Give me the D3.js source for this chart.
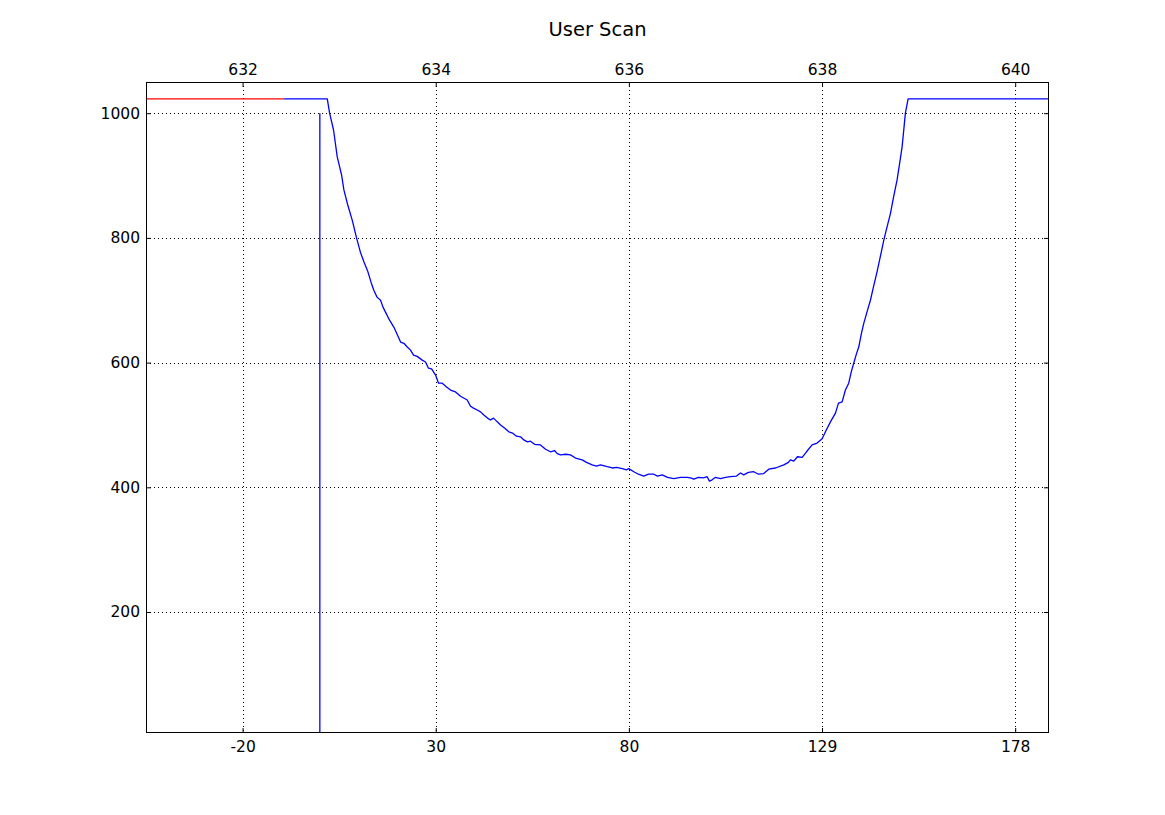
<!DOCTYPE html>
<html>
<head>
<meta charset="utf-8">
<script src="https://cdn.jsdelivr.net/npm/d3@7"></script>
<style>
  html, body { margin: 0; padding: 0; background: #fff; }
  svg { display: block; }
  text { font-family: "DejaVu Sans", sans-serif; fill: #000; }
</style>
</head>
<body>
<svg id="chart" width="1165" height="815"></svg>
<script>
// ---- data ----
const titleText = "User Scan";
const topTicks = [632, 634, 636, 638, 640];
const bottomTickLabels = ["-20", "30", "80", "129", "178"];
const yTicks = [200, 400, 600, 800, 1000];

const scanWavelength = [
  632.430, 632.877, 632.901, 632.942, 632.980, 633.025, 633.049, 633.087, 633.136, 633.180,
  633.222, 633.258, 633.297, 633.330, 633.359, 633.392, 633.429, 633.454, 633.480, 633.522,
  633.566, 633.599, 633.636, 633.670, 633.705, 633.739, 633.770, 633.808, 633.860, 633.894,
  633.925, 633.957, 633.998, 634.029, 634.067, 634.112, 634.153, 634.205, 634.257, 634.326,
  634.360, 634.391, 634.430, 634.464, 634.498, 634.536, 634.567, 634.598, 634.637, 634.671,
  634.712, 634.757, 634.795, 634.836, 634.878, 634.912, 634.950, 634.981, 635.023, 635.085,
  635.137, 635.188, 635.230, 635.258, 635.292, 635.344, 635.395, 635.447, 635.516, 635.561,
  635.620, 635.665, 635.706, 635.775, 635.830, 635.872, 635.931, 635.975, 635.999, 636.051,
  636.099, 636.154, 636.203, 636.258, 636.296, 636.345, 636.400, 636.465, 636.534, 636.603,
  636.638, 636.672, 636.720, 636.772, 636.810, 636.834, 636.862, 636.896, 636.948, 637.000,
  637.052, 637.114, 637.155, 637.189, 637.238, 637.293, 637.342, 637.396, 637.448, 637.518,
  637.604, 637.652, 637.673, 637.707, 637.745, 637.794, 637.839, 637.897, 637.949, 638.001,
  638.035, 638.087, 638.139, 638.170, 638.208, 638.242, 638.276, 638.304, 638.328, 638.356,
  638.380, 638.408, 638.432, 638.465, 638.501, 638.532, 638.570, 638.605, 638.639, 638.672,
  638.708, 638.739, 638.777, 638.801, 638.829, 638.848, 638.863, 638.891, 640.400
];
const scanIntensity = [
  1023, 1023, 1000, 973, 930, 901, 877, 854, 828, 800,
  776, 761, 746, 729, 716, 705, 700, 689, 681, 668,
  657, 646, 633, 631, 625, 620, 612, 610, 604, 601,
  591, 590, 580, 567, 567, 561, 556, 553, 546, 540,
  530, 527, 524, 521, 516, 511, 508, 511, 505, 500,
  495, 489, 487, 482, 481, 476, 473, 474, 469, 468,
  461, 457, 459, 454, 452, 453, 452, 447, 444, 440,
  436, 434, 436, 433, 431, 432, 430, 428, 430, 425,
  421, 418, 421, 421, 418, 420, 416, 414, 416, 416,
  415, 413, 416, 415, 417, 410, 412, 416, 414, 416,
  417, 418, 423, 420, 424, 425, 421, 422, 429, 431,
  436, 440, 444, 442, 449, 448, 457, 468, 471, 478,
  489, 505, 519, 535, 537, 556, 567, 586, 599, 614,
  625, 647, 663, 681, 700, 721, 746, 771, 796, 817,
  839, 864, 893, 917, 946, 976, 1000, 1023, 1023
];

const refWavelength = [630.9, 632.43];
const refIntensity = [1023, 1023];

const markerWavelength = [632.80, 632.80];
const markerIntensity = [1000, 0];

// ---- layout ----
const L = 146, R = 1049, T = 82, B = 733;
const svg = d3.select("#chart");

const x = d3.scaleLinear().domain([631.0, 640.35]).range([L, R]);
const y = d3.scaleLinear().domain([6, 1050]).range([B, T]);

svg.append("defs").append("clipPath").attr("id", "plotclip")
  .append("rect").attr("x", L).attr("y", T).attr("width", R - L).attr("height", B - T);

// grid
const grid = svg.append("g").attr("stroke", "#000").attr("stroke-width", 1)
  .attr("stroke-dasharray", "1,3");
grid.selectAll("line.v").data(topTicks).enter().append("line")
  .attr("x1", d => Math.round(x(d)) + 0.5).attr("x2", d => Math.round(x(d)) + 0.5)
  .attr("y1", T).attr("y2", B);
grid.selectAll("line.h").data(yTicks).enter().append("line")
  .attr("y1", d => Math.round(y(d)) + 0.5).attr("y2", d => Math.round(y(d)) + 0.5)
  .attr("x1", L).attr("x2", R);

// lines
const line = d3.line().x(d => x(d[0])).y(d => y(d[1]));
const plot = svg.append("g").attr("clip-path", "url(#plotclip)");

plot.append("path")
  .datum(d3.zip(refWavelength, refIntensity))
  .attr("d", line).attr("fill", "none").attr("stroke", "#ff0000").attr("stroke-width", 1.3);

plot.append("path")
  .datum(d3.zip(scanWavelength, scanIntensity))
  .attr("d", line).attr("fill", "none").attr("stroke", "#0000ff").attr("stroke-width", 1.3)
  .attr("stroke-linejoin", "round");

plot.append("path")
  .datum(d3.zip(markerWavelength, markerIntensity))
  .attr("d", line).attr("fill", "none").attr("stroke", "#0000ff").attr("stroke-width", 1.3);

// axes
const fontSize = "15.5px";
const topAxis = d3.axisTop(x).tickValues(topTicks).tickFormat(d3.format("d"))
  .tickSizeInner(-5).tickSizeOuter(0).tickPadding(7);
const bottomAxis = d3.axisBottom(x).tickValues(topTicks)
  .tickFormat((d, i) => bottomTickLabels[i])
  .tickSizeInner(-5).tickSizeOuter(0).tickPadding(8);
const leftAxis = d3.axisLeft(y).tickValues(yTicks).tickFormat(d3.format("d"))
  .tickSizeInner(-5).tickSizeOuter(0).tickPadding(6);
const rightAxis = d3.axisRight(y).tickValues(yTicks).tickFormat("")
  .tickSizeInner(-5).tickSizeOuter(0);

function styleAxis(g) {
  g.select(".domain").remove();
  g.selectAll("line").attr("stroke", "#000").attr("stroke-width", 1);
  g.selectAll("text").attr("font-size", fontSize).attr("font-family", "DejaVu Sans, sans-serif")
    .attr("fill", "#000");
}

svg.append("g").attr("transform", `translate(0,${T})`).call(topAxis).call(styleAxis);
svg.append("g").attr("transform", `translate(0,${B})`).call(bottomAxis).call(styleAxis);
svg.append("g").attr("transform", `translate(${L},0)`).call(leftAxis).call(styleAxis);
svg.append("g").attr("transform", `translate(${R},0)`).call(rightAxis).call(styleAxis);

// frame
svg.append("rect").attr("x", L + 0.5).attr("y", T + 0.5)
  .attr("width", R - L - 1).attr("height", B - T - 1)
  .attr("fill", "none").attr("stroke", "#000").attr("stroke-width", 1);

// title
svg.append("text").attr("x", (L + R) / 2).attr("y", 35.5)
  .attr("text-anchor", "middle").attr("font-size", "19.5px").text(titleText);
</script>
</body>
</html>
